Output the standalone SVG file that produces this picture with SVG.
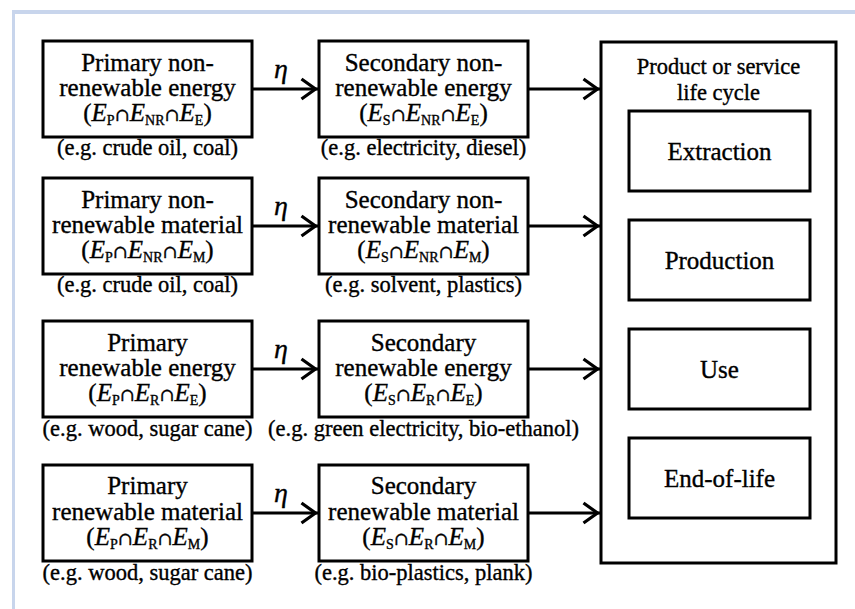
<svg xmlns="http://www.w3.org/2000/svg" width="855" height="609" viewBox="0 0 855 609">
<style>
.box{fill:#fff;stroke:#000;stroke-width:3}
text{font-family:"Liberation Serif","Times New Roman","DejaVu Serif",serif;fill:#000;stroke:#000;stroke-width:0.35;text-anchor:middle}
.t{font-size:25px}
.c{font-size:22.5px}
.big{font-size:25px}
.eta{font-size:28px;font-style:italic}
.i{font-style:italic}
.s{font-size:14px}
.cap{font-family:"DejaVu Serif","Liberation Serif",serif;font-size:18px}
.ln{fill:none;stroke:#000;stroke-width:3}
</style>
<defs>
<marker id="arr" viewBox="0 0 22 24" markerWidth="22" markerHeight="24" refX="19.5" refY="12" orient="auto" markerUnits="userSpaceOnUse">
<path d="M3,2 L17,12 L3,22" fill="none" stroke="#000" stroke-width="3.2"/>
</marker>
<marker id="arrS" viewBox="0 0 18 18" markerWidth="18" markerHeight="18" refX="15.5" refY="9" orient="auto" markerUnits="userSpaceOnUse">
<path d="M3,2 L13.5,9 L3,16" fill="none" stroke="#000" stroke-width="3"/>
</marker>
</defs>
<rect width="855" height="609" fill="#fff"/>
<rect x="12" y="10" width="843" height="4" fill="#c8d5ec"/>
<rect x="12" y="10" width="3" height="599" fill="#c8d5ec"/>

<g id="connectors">
<line class="ln" x1="252" y1="89" x2="318" y2="89" marker-end="url(#arr)"/>
<line class="ln" x1="252" y1="226" x2="318" y2="226" marker-end="url(#arr)"/>
<line class="ln" x1="252" y1="369" x2="318" y2="369" marker-end="url(#arr)"/>
<line class="ln" x1="252" y1="513" x2="318" y2="513" marker-end="url(#arr)"/>
<line class="ln" x1="528" y1="89" x2="600" y2="89" marker-end="url(#arr)"/>
<line class="ln" x1="528" y1="226" x2="600" y2="226" marker-end="url(#arr)"/>
<line class="ln" x1="528" y1="369" x2="600" y2="369" marker-end="url(#arr)"/>
<line class="ln" x1="528" y1="513" x2="600" y2="513" marker-end="url(#arr)"/>
<line class="ln" x1="719" y1="191" x2="719" y2="219" marker-end="url(#arrS)"/>
<line class="ln" x1="719" y1="300" x2="719" y2="328" marker-end="url(#arrS)"/>
<line class="ln" x1="719" y1="409" x2="719" y2="437" marker-end="url(#arrS)"/>
<text class="eta" x="281" y="78">η</text>
<text class="eta" x="281" y="215">η</text>
<text class="eta" x="281" y="358">η</text>
<text class="eta" x="281" y="502">η</text>
</g>

<g id="p1">
<rect class="box" x="43" y="41" width="209" height="96"/>
<text class="t" x="147.5" y="71">Primary non-</text>
<text class="t" x="147.5" y="96">renewable energy</text>
<text class="t" x="147.5" y="121">(<tspan class="i">E</tspan><tspan class="s" dy="4">P</tspan><tspan class="cap" dy="-4">∩</tspan><tspan class="i">E</tspan><tspan class="s" dy="4">NR</tspan><tspan class="cap" dy="-4">∩</tspan><tspan class="i">E</tspan><tspan class="s" dy="4">E</tspan><tspan dy="-4">)</tspan></text>
<text class="c" x="147.5" y="155">(e.g. crude oil, coal)</text>
</g>
<g id="s1">
<rect class="box" x="319" y="41" width="209" height="96"/>
<text class="t" x="423.5" y="71">Secondary non-</text>
<text class="t" x="423.5" y="96">renewable energy</text>
<text class="t" x="423.5" y="121">(<tspan class="i">E</tspan><tspan class="s" dy="4">S</tspan><tspan class="cap" dy="-4">∩</tspan><tspan class="i">E</tspan><tspan class="s" dy="4">NR</tspan><tspan class="cap" dy="-4">∩</tspan><tspan class="i">E</tspan><tspan class="s" dy="4">E</tspan><tspan dy="-4">)</tspan></text>
<text class="c" x="423.5" y="155">(e.g. electricity, diesel)</text>
</g>

<g id="p2">
<rect class="box" x="43" y="178" width="209" height="96"/>
<text class="t" x="147.5" y="208">Primary non-</text>
<text class="t" x="147.5" y="233">renewable material</text>
<text class="t" x="147.5" y="258">(<tspan class="i">E</tspan><tspan class="s" dy="4">P</tspan><tspan class="cap" dy="-4">∩</tspan><tspan class="i">E</tspan><tspan class="s" dy="4">NR</tspan><tspan class="cap" dy="-4">∩</tspan><tspan class="i">E</tspan><tspan class="s" dy="4">M</tspan><tspan dy="-4">)</tspan></text>
<text class="c" x="147.5" y="292">(e.g. crude oil, coal)</text>
</g>
<g id="s2">
<rect class="box" x="319" y="178" width="209" height="96"/>
<text class="t" x="423.5" y="208">Secondary non-</text>
<text class="t" x="423.5" y="233">renewable material</text>
<text class="t" x="423.5" y="258">(<tspan class="i">E</tspan><tspan class="s" dy="4">S</tspan><tspan class="cap" dy="-4">∩</tspan><tspan class="i">E</tspan><tspan class="s" dy="4">NR</tspan><tspan class="cap" dy="-4">∩</tspan><tspan class="i">E</tspan><tspan class="s" dy="4">M</tspan><tspan dy="-4">)</tspan></text>
<text class="c" x="423.5" y="292">(e.g. solvent, plastics)</text>
</g>

<g id="p3">
<rect class="box" x="43" y="321" width="209" height="96"/>
<text class="t" x="147.5" y="351">Primary</text>
<text class="t" x="147.5" y="376">renewable energy</text>
<text class="t" x="147.5" y="401">(<tspan class="i">E</tspan><tspan class="s" dy="4">P</tspan><tspan class="cap" dy="-4">∩</tspan><tspan class="i">E</tspan><tspan class="s" dy="4">R</tspan><tspan class="cap" dy="-4">∩</tspan><tspan class="i">E</tspan><tspan class="s" dy="4">E</tspan><tspan dy="-4">)</tspan></text>
<text class="c" x="147.5" y="436">(e.g. wood, sugar cane)</text>
</g>
<g id="s3">
<rect class="box" x="319" y="321" width="209" height="96"/>
<text class="t" x="423.5" y="351">Secondary</text>
<text class="t" x="423.5" y="376">renewable energy</text>
<text class="t" x="423.5" y="401">(<tspan class="i">E</tspan><tspan class="s" dy="4">S</tspan><tspan class="cap" dy="-4">∩</tspan><tspan class="i">E</tspan><tspan class="s" dy="4">R</tspan><tspan class="cap" dy="-4">∩</tspan><tspan class="i">E</tspan><tspan class="s" dy="4">E</tspan><tspan dy="-4">)</tspan></text>
<text class="c" x="423.5" y="436">(e.g. green electricity, bio-ethanol)</text>
</g>

<g id="p4">
<rect class="box" x="43" y="465" width="209" height="96"/>
<text class="t" x="147.5" y="494">Primary</text>
<text class="t" x="147.5" y="520">renewable material</text>
<text class="t" x="147.5" y="545">(<tspan class="i">E</tspan><tspan class="s" dy="4">P</tspan><tspan class="cap" dy="-4">∩</tspan><tspan class="i">E</tspan><tspan class="s" dy="4">R</tspan><tspan class="cap" dy="-4">∩</tspan><tspan class="i">E</tspan><tspan class="s" dy="4">M</tspan><tspan dy="-4">)</tspan></text>
<text class="c" x="147.5" y="580">(e.g. wood, sugar cane)</text>
</g>
<g id="s4">
<rect class="box" x="319" y="465" width="209" height="96"/>
<text class="t" x="423.5" y="494">Secondary</text>
<text class="t" x="423.5" y="520">renewable material</text>
<text class="t" x="423.5" y="545">(<tspan class="i">E</tspan><tspan class="s" dy="4">S</tspan><tspan class="cap" dy="-4">∩</tspan><tspan class="i">E</tspan><tspan class="s" dy="4">R</tspan><tspan class="cap" dy="-4">∩</tspan><tspan class="i">E</tspan><tspan class="s" dy="4">M</tspan><tspan dy="-4">)</tspan></text>
<text class="c" x="423.5" y="580">(e.g. bio-plastics, plank)</text>
</g>

<g id="lifecycle">
<rect class="box" x="601" y="42" width="235" height="521"/>
<text class="c" x="718.5" y="74">Product or service</text>
<text class="c" x="718.5" y="100">life cycle</text>
</g>
<g id="extraction">
<rect class="box" x="629" y="111" width="181" height="80"/>
<text class="big" x="719.5" y="160">Extraction</text>
</g>
<g id="production">
<rect class="box" x="629" y="220" width="181" height="80"/>
<text class="big" x="719.5" y="269">Production</text>
</g>
<g id="use">
<rect class="box" x="629" y="329" width="181" height="80"/>
<text class="big" x="719.5" y="378">Use</text>
</g>
<g id="endoflife">
<rect class="box" x="629" y="438" width="181" height="80"/>
<text class="big" x="719.5" y="487">End-of-life</text>
</g>
</svg>
